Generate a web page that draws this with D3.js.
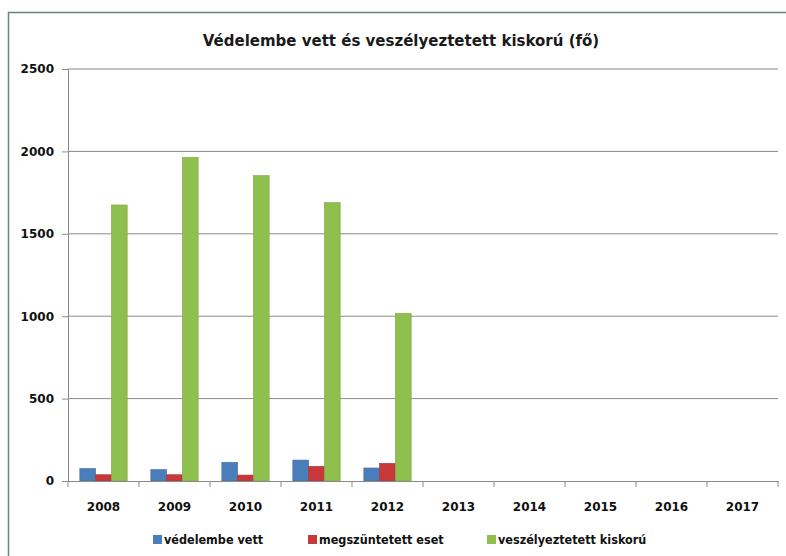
<!DOCTYPE html>
<html><head><meta charset="utf-8">
<script src="https://cdn.jsdelivr.net/npm/d3@7"></script>
<style>body{margin:0;background:#fff;}svg{display:block;}</style>
</head><body>
<svg id="c" width="786" height="556"></svg>
<script>
const years = ["2008","2009","2010","2011","2012","2013","2014","2015","2016","2017"];
const seriesNames = ["védelembe vett","megszüntetett eset","veszélyeztetett kiskorú"];
const vedelembe = [76,69,113,127,79,null,null,null,null,null];
const megszuntetett = [38,38,36,89,107,null,null,null,null,null];
const veszelyeztetett = [1675,1964,1853,1689,1017,null,null,null,null,null];
const yTicks = [0,500,1000,1500,2000,2500];
const colors = ["#4a7ebb","#c8383a","#8fbf4d"];
const title = "Védelembe vett és veszélyeztetett kiskorú (fő)";

const svg = d3.select("#c");
const fontN = "'DejaVu Sans', sans-serif";
const fontC = "'DejaVu Sans Condensed', 'DejaVu Sans', sans-serif";
const m = {l:68, r:778, t:69, b:481};

svg.append("rect").attr("x",8.5).attr("y",12.5).attr("width",800).attr("height",600)
  .attr("fill","#fff").attr("stroke","#5f8a7c").attr("stroke-width",1.5);

const x = d3.scaleBand().domain(years).range([m.l,m.r]).paddingInner(0).paddingOuter(0);
const y = d3.scaleLinear().domain([0,2500]).range([m.b,m.t]);
const bw = x.bandwidth()/4.5;
const sub = d3.scaleBand().domain(seriesNames).range([0.75*bw, 3.75*bw]);

// gridlines
svg.append("g").selectAll("line").data(yTicks.filter(d=>d>0)).join("line")
  .attr("x1",m.l).attr("x2",m.r).attr("y1",d=>y(d)).attr("y2",d=>y(d))
  .attr("stroke","#8a8a8a").attr("stroke-width",1);

// bars
const data = [vedelembe, megszuntetett, veszelyeztetett];
data.forEach((arr,i)=>{
  svg.append("g").selectAll("rect").data(years.map((yr,j)=>({yr,v:arr[j]})).filter(d=>d.v!=null))
    .join("rect")
    .attr("x",d=>x(d.yr)+sub(seriesNames[i]))
    .attr("width",sub.bandwidth())
    .attr("y",d=>y(d.v)).attr("height",d=>y(0)-y(d.v))
    .attr("fill",colors[i]).attr("stroke",d3.color(colors[i]).darker(0.4)).attr("stroke-width",0.6);
});

// y axis
const ya = svg.append("g").attr("transform",`translate(${m.l},0)`)
  .call(d3.axisLeft(y).tickValues(yTicks).tickSize(6).tickPadding(8).tickFormat(d3.format("d")));
ya.select(".domain").attr("stroke","#8a8a8a");
ya.selectAll(".tick line").attr("stroke","#8a8a8a");
ya.selectAll("text").attr("font-family",fontN).attr("font-weight","bold").attr("font-size",12).attr("fill","#111");

// x axis
const xa = svg.append("g").attr("transform",`translate(0,${m.b})`)
  .call(d3.axisBottom(x).tickSize(0).tickPadding(21));
xa.select(".domain").attr("stroke","#8a8a8a");
xa.selectAll("text").attr("font-family",fontN).attr("font-weight","bold").attr("font-size",12).attr("fill","#111");
svg.append("g").selectAll("line").data(years.concat(["end"])).join("line")
  .attr("x1",(d,i)=>m.l+i*x.step()).attr("x2",(d,i)=>m.l+i*x.step())
  .attr("y1",m.b).attr("y2",m.b+6).attr("stroke","#8a8a8a");

// title
svg.append("text").attr("x",401).attr("y",46).attr("text-anchor","middle")
  .attr("font-family",fontN).attr("font-weight","bold").attr("font-size",15).attr("fill","#1a1a1a")
  .text(title);

// legend
const legX = [153,308,487];
const lg = svg.append("g").selectAll("g").data(seriesNames).join("g")
  .attr("transform",(d,i)=>`translate(${legX[i]},544)`);
lg.append("rect").attr("x",0).attr("y",-9).attr("width",9).attr("height",9).attr("fill",(d,i)=>colors[i]);
lg.append("text").attr("x",11).attr("y",0).attr("font-family",fontC).attr("font-weight","bold")
  .attr("font-size",12.5).attr("fill","#111").text(d=>d);
</script>
</body></html>
